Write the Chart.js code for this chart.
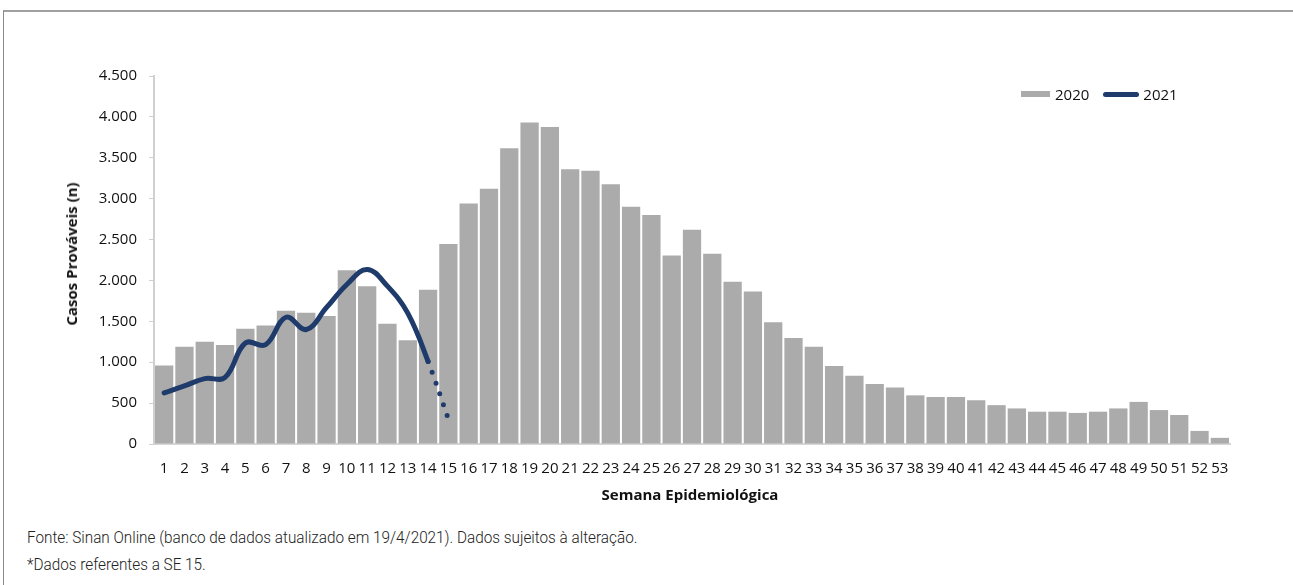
<!DOCTYPE html>
<html>
<head>
    <style>
        body {
            margin: 0;
            background: #fff;
            font-family: "Open Sans", sans-serif;
        }
        #frame {
            position: absolute;
            left: 3px;
            top: 10px;
            width: 1290px;
            height: 580px;
            border-top: 2px solid #a0a0a0;
            border-left: 1px solid #8a8a8a;
        }
        #wrap {
            position: absolute;
            left: 0;
            top: 0;
            width: 1293px;
            height: 520px;
        }
        .ytitle {
            position: absolute;
            left: 71px;
            top: 254px;
            transform: translate(-50%, -50%) rotate(-90deg);
            font-weight: bold;
            font-size: 15px;
            white-space: nowrap;
            color: #111;
        }
        .xtitle {
            position: absolute;
            left: 690px;
            top: 494px;
            transform: translate(-50%, -50%);
            font-weight: bold;
            font-size: 15px;
            white-space: nowrap;
            color: #111;
        }
        .legend {
            position: absolute;
            left: 1021px;
            top: 84px;
            font-size: 15px;
            color: #111;
            display: flex;
            align-items: center;
            white-space: nowrap;
        }
        .sw-bar { width: 29px; height: 6px; background: #aaabaa; margin-right: 5px; }
        .sw-line { width: 36px; height: 5px; border-radius: 3px; background: #1f3b6b; margin: 0 4px 0 14px; }
        .note {
            position: absolute;
            left: 27px;
            font-family: "Roboto", sans-serif;
            font-weight: 300;
            font-size: 17px;
            color: #222;
            white-space: nowrap;
            transform: scaleX(0.9);
            transform-origin: left center;
        }
    </style>
    <script src="https://cdn.jsdelivr.net/npm/chart.js"></script>
</head>
<body>
    <div id="frame"></div>
    <div id="wrap"><canvas id="myChart"></canvas></div>
    <div class="ytitle">Casos Prováveis (n)</div>
    <div class="xtitle">Semana Epidemiológica</div>
    <div class="legend"><div class="sw-bar"></div>2020<div class="sw-line"></div>2021</div>
    <div class="note" style="top:527px">Fonte: Sinan Online (banco de dados atualizado em 19/4/2021). Dados sujeitos à alteração.</div>
    <div class="note" style="top:554px">*Dados referentes a SE 15.</div>
    <script>
        // semanas epidemiologicas 1..53
        var weeks = [];
        for (var i = 1; i <= 53; i++) weeks.push(String(i));

        var cases2020 = [960, 1190, 1250, 1210, 1410, 1450, 1630, 1605, 1565, 2125, 1930, 1470, 1270, 1885,
            2445, 2940, 3120, 3615, 3930, 3875, 3360, 3340, 3175, 2900, 2800, 2305, 2620, 2325, 1985,
            1865, 1490, 1295, 1190, 955, 835, 735, 690, 595, 575, 575, 535, 475, 435, 395, 395, 380,
            395, 435, 515, 415, 355, 160, 75];

        var cases2021 = [625, 710, 800, 815, 1235, 1215, 1550, 1400, 1670, 1950, 2135, 1930, 1600, 1010, 305];

        var yTicks = [0, 500, 1000, 1500, 2000, 2500, 3000, 3500, 4000, 4500];

        var ctx = document.getElementById('myChart').getContext('2d');
        var myChart = new Chart(ctx, {
            data: {
                labels: weeks,
                datasets: [{
                    type: 'line',
                    label: '2021',
                    data: cases2021,
                    borderColor: '#1f3b6b',
                    borderWidth: 5,
                    borderCapStyle: 'round',
                    tension: 0.4,
                    pointRadius: 0,
                    fill: false,
                    segment: {
                        borderDash: function(c) { return c.p0DataIndex >= 13 ? [0, 11.5] : undefined; }
                    }
                }, {
                    type: 'bar',
                    label: '2020',
                    data: cases2020,
                    backgroundColor: '#aaabaa',
                    barPercentage: 0.9,
                    categoryPercentage: 1
                }]
            },
            options: {
                responsive: true,
                maintainAspectRatio: false,
                animation: false,
                layout: { padding: { top: 76, right: 63, left: 0, bottom: 0 } },
                plugins: {
                    legend: { display: false },
                    tooltip: { enabled: false }
                },
                scales: {
                    x: {
                        offset: true,
                        grid: { display: false },
                        border: { display: true, color: '#d6d6d6', width: 2 },
                        ticks: {
                            autoSkip: false,
                            maxRotation: 0,
                            padding: 8,
                            color: '#111',
                            font: { family: 'Open Sans', size: 15 }
                        },
                        afterFit: function(s) { s.height = 76; }
                    },
                    y: {
                        min: 0,
                        max: 4500,
                        afterBuildTicks: function(s) { s.ticks = yTicks.map(function(v) { return { value: v }; }); },
                        grid: { drawOnChartArea: false, tickLength: 5, color: '#d0d0d0' },
                        border: { display: true, color: '#d0d0d0', width: 2 },
                        ticks: {
                            padding: 12,
                            color: '#111',
                            font: { family: 'Open Sans', size: 15 },
                            callback: function(v) { return String(v).replace(/\B(?=(\d{3})+(?!\d))/g, '.'); }
                        },
                        afterFit: function(s) { s.width = 154; }
                    }
                }
            }
        });
    </script>
</body>
</html>
